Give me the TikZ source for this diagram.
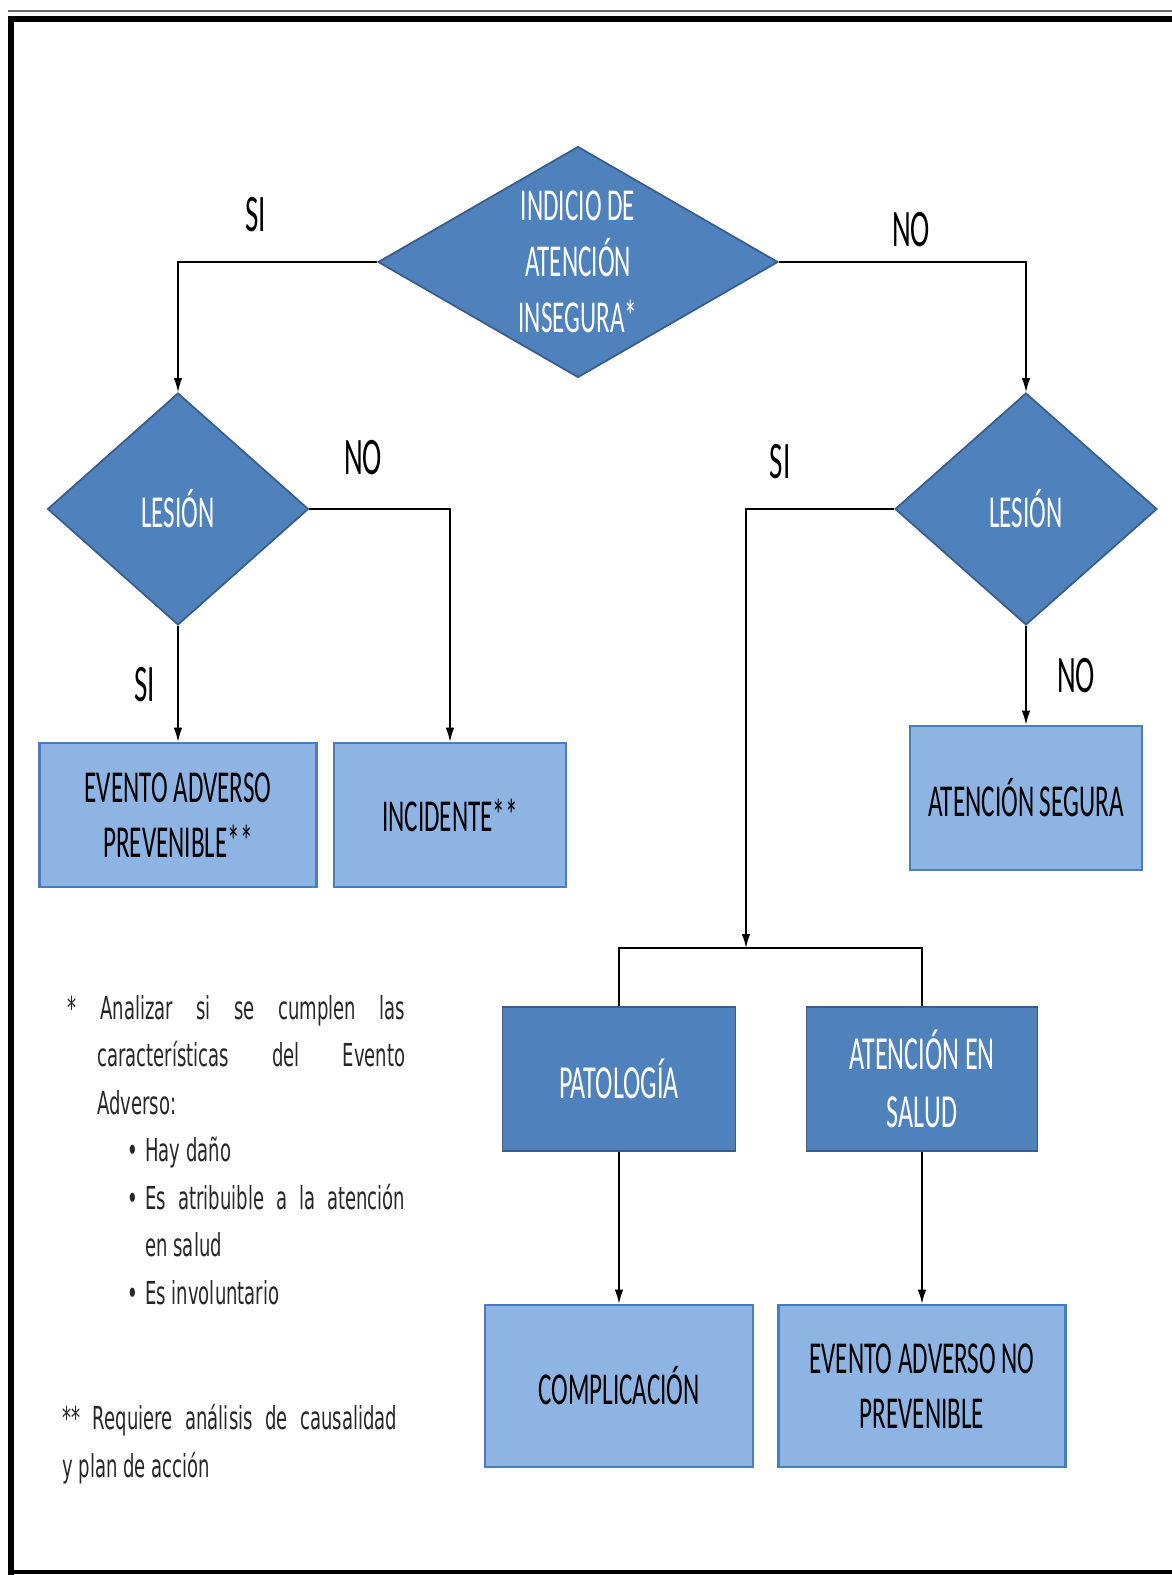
\documentclass[tikz,border=0pt]{standalone}
\usepackage{fontspec}
\usetikzlibrary{shapes.geometric,arrows.meta}
\newfontfamily\calfont{Carlito}[FakeStretch=0.55]
\newfontfamily\notafont{DejaVu Sans}[FakeStretch=0.57]
\definecolor{azulrombo}{HTML}{4F81BD}
\definecolor{bordeazul}{HTML}{385D8A}
\definecolor{azulclaro}{HTML}{8EB4E3}
\definecolor{bordeclaro}{HTML}{4A7EBB}
\tikzstyle{decision}=[diamond, draw=bordeazul, fill=azulrombo, line width=1pt,
  text=white, inner sep=0pt, align=center,
  font=\calfont\fontsize{26}{32}\selectfont]
\tikzstyle{resultado}=[rectangle, draw=bordeclaro, fill=azulclaro, line width=1.5pt,
  inner sep=0pt, align=center, font=\calfont\fontsize{26}{31}\selectfont]
\tikzstyle{causa}=[rectangle, draw=bordeazul, fill=azulrombo, line width=1pt,
  text=white, inner sep=0pt, align=center, font=\calfont\fontsize{27}{33}\selectfont]
\tikzstyle{etiqueta}=[inner sep=0pt, font=\calfont\fontsize{30}{36}\selectfont]
\tikzstyle{nota}=[inner sep=0pt, align=left, text=black!85,
  font=\notafont\fontsize{18}{27}\selectfont]
\tikzstyle{line}=[draw, line width=0.8pt, -{Latex[length=0.28cm,width=0.17cm]}]

\begin{document}
\begin{tikzpicture}[x=0.02cm,y=-0.02cm]
\useasboundingbox (0,0) rectangle (1172,1575);

% marco
\draw[black!60, line width=0.8pt] (8,11) -- (1172,11);
\draw[line width=3.5pt] (11,1575) -- (11,19) -- (1172,19);
\draw[line width=2.5pt] (11,1572) -- (1172,1572);

% rombos de decision
\node[decision, minimum width=8cm, minimum height=4.62cm, aspect=1.73] (ind) at (578,262)
  {INDICIO DE\\ATENCIÓN\\INSEGURA*};
\node[decision, minimum width=5.22cm, minimum height=4.64cm, aspect=1.12] (lesA) at (178,509) {LESIÓN};
\node[decision, minimum width=5.24cm, minimum height=4.64cm, aspect=1.12] (lesB) at (1026,509) {LESIÓN};

% resultados
\node[resultado, minimum width=5.54cm, minimum height=2.88cm] (eap) at (178,815)
  {EVENTO ADVERSO\\PREVENIBLE**};
\node[resultado, minimum width=4.64cm, minimum height=2.88cm] (inc) at (450,815) {INCIDENTE**};
\node[resultado, minimum width=4.64cm, minimum height=2.88cm] (seg) at (1026,798) {ATENCIÓN SEGURA};
\node[causa, minimum width=4.66cm, minimum height=2.88cm] (pat) at (619,1079) {PATOLOGÍA};
\node[causa, minimum width=4.62cm, minimum height=2.88cm] (aes) at (922,1079) {ATENCIÓN EN\\SALUD};
\node[resultado, minimum width=5.36cm, minimum height=3.24cm] (comp) at (619,1386) {COMPLICACIÓN};
\node[resultado, minimum width=5.74cm, minimum height=3.24cm] (eanp) at (922,1386)
  {EVENTO ADVERSO NO\\PREVENIBLE};
\coordinate (div) at (746,948);

% flechas
\path [line] (ind.west) -| (lesA.north);
\path [line] (ind.east) -| (lesB.north);
\path [line] (lesA.south) -- (eap.north);
\path [line] (lesA.east) -| (inc.north);
\path [line] (lesB.south) -- (seg.north);
\path [line] (lesB.west) -| (div);
\draw [line width=0.8pt] (pat.north) |- (div) -| (aes.north);
\path [line] (pat.south) -- (comp.north);
\path [line] (aes.south) -- (eanp.north);

% etiquetas
\node[etiqueta] (si1) at (256,215) {SI};
\node[etiqueta] (no1) at (911,230) {NO};
\node[etiqueta] (si2) at (145,685) {SI};
\node[etiqueta] (no2) at (363,458) {NO};
\node[etiqueta] (si3) at (780,462) {SI};
\node[etiqueta] (no3) at (1076,676) {NO};

% notas
\node[nota, anchor=north west] (nota1) at (62,995)
  {\hspace*{0.1cm}\makebox[0.66cm][l]{*}\makebox[6.1cm][s]{Analizar si se cumplen las}\\
   \hspace*{0.7cm}\makebox[6.16cm][s]{características del Evento}\\
   \hspace*{0.7cm}Adverso:\\
   \hspace*{1.3cm}\makebox[0.36cm][l]{\textbullet}Hay daño\\
   \hspace*{1.3cm}\makebox[0.36cm][l]{\textbullet}\makebox[5.2cm][s]{Es atribuible a la atención}\\
   \hspace*{1.66cm}en salud\\
   \hspace*{1.3cm}\makebox[0.36cm][l]{\textbullet}Es involuntario};
\node[nota, anchor=north west] (nota2) at (62,1404)
  {\makebox[6.7cm][s]{** Requiere análisis de causalidad}\\
   y plan de acción};
\end{tikzpicture}
\end{document}
